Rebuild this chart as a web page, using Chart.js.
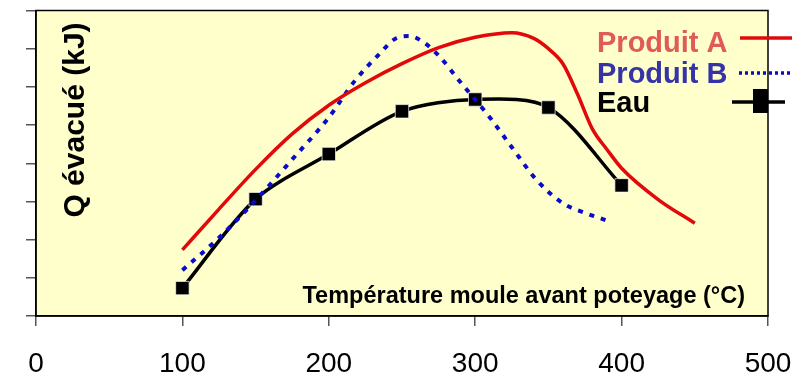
<!DOCTYPE html>
<html>
<head>
<meta charset="utf-8">
<script src="https://cdn.jsdelivr.net/npm/chart.js@4"></script>
<style>
  html, body { margin: 0; padding: 0; background: #fff; }
  #wrap { width: 800px; height: 391px; }
</style>
</head>
<body>
<div id="wrap"><canvas id="qChart" width="800" height="391"></canvas></div>
<script>
// x values (°C) and Q values
const tempA = [100, 125, 150, 175, 200, 225, 250, 275, 300, 325, 340, 350, 360, 370, 380, 390, 400, 425, 450];
const produitA = [1.73, 2.8, 3.84, 4.77, 5.52, 6.11, 6.61, 7.03, 7.3, 7.42, 7.27, 7.0, 6.6, 5.8, 4.9, 4.36, 3.87, 3.05, 2.43];

const tempB = [100, 125, 150, 175, 200, 218, 235, 245, 255, 265, 275, 290, 310, 325, 342, 360, 375, 390];
const produitB = [1.2, 2.05, 3.03, 4.1, 5.2, 6.17, 6.88, 7.25, 7.33, 7.16, 6.82, 6.12, 5.2, 4.42, 3.56, 2.95, 2.7, 2.5];

const tempEau = [100, 150, 200, 250, 300, 350, 400];
const eau = [0.73, 3.06, 4.24, 5.36, 5.67, 5.46, 3.42];

const xTicks = [0, 100, 200, 300, 400, 500];
const yTitle = 'Q évacué (kJ)';
const xTitle = 'Température moule avant poteyage (°C)';
const legendLabels = ['Produit A', 'Produit B', 'Eau'];

const toPoints = (xs, ys) => xs.map((x, i) => ({ x: x, y: ys[i] }));

Chart.defaults.font.family = 'Arial, "Liberation Sans", sans-serif';
Chart.defaults.color = '#000';

const plotDecor = {
  id: 'plotDecor',
  beforeDraw(chart) {
    const { ctx, chartArea: a } = chart;
    ctx.save();
    ctx.fillStyle = '#FFFFCC';
    ctx.fillRect(a.left, a.top, a.right - a.left, a.bottom - a.top);
    ctx.restore();
  },
  beforeDatasetsDraw(chart) {
    const { ctx, chartArea: a } = chart;
    ctx.save();
    ctx.strokeStyle = '#000';
    ctx.lineWidth = 1.5;
    ctx.strokeRect(a.left, a.top, a.right - a.left, a.bottom - a.top);

    // axis titles sit inside the plot
    ctx.fillStyle = '#000';
    ctx.font = 'bold 23.5px Arial, "Liberation Sans", sans-serif';
    ctx.textAlign = 'right';
    ctx.textBaseline = 'alphabetic';
    ctx.fillText(xTitle, 745, 303);

    ctx.translate(84, 120);
    ctx.rotate(-Math.PI / 2);
    ctx.textAlign = 'center';
    ctx.font = 'bold 30px Arial, "Liberation Sans", sans-serif';
    ctx.fillText(yTitle, 0, 0);
    ctx.restore();
  },
  afterDraw(chart) {
    const { ctx } = chart;
    ctx.save();
    ctx.font = 'bold 29px Arial, "Liberation Sans", sans-serif';
    ctx.textAlign = 'left';
    ctx.textBaseline = 'alphabetic';

    ctx.fillStyle = '#E05A5A';
    ctx.fillText(legendLabels[0], 597, 52);
    ctx.fillStyle = '#3434A8';
    ctx.fillText(legendLabels[1], 597, 83);
    ctx.fillStyle = '#000';
    ctx.fillText(legendLabels[2], 597, 112);

    ctx.lineWidth = 3.5;
    ctx.strokeStyle = '#E00A0A';
    ctx.beginPath(); ctx.moveTo(740, 38); ctx.lineTo(792, 38); ctx.stroke();

    ctx.strokeStyle = '#0A0ACC';
    ctx.setLineDash([3, 3]);
    ctx.beginPath(); ctx.moveTo(739, 73); ctx.lineTo(790, 73); ctx.stroke();
    ctx.setLineDash([]);

    ctx.strokeStyle = '#000';
    ctx.beginPath(); ctx.moveTo(732, 102); ctx.lineTo(785, 102); ctx.stroke();
    ctx.fillStyle = '#000';
    ctx.fillRect(753, 89, 15, 24);
    ctx.restore();
  }
};

new Chart(document.getElementById('qChart'), {
  type: 'scatter',
  data: {
    datasets: [
      {
        label: 'Produit A',
        data: toPoints(tempA, produitA),
        showLine: true,
        borderColor: '#E00A0A',
        borderWidth: 3.5,
        pointRadius: 0,
        cubicInterpolationMode: 'monotone'
      },
      {
        label: 'Produit B',
        data: toPoints(tempB, produitB),
        showLine: true,
        borderColor: '#0A0ACC',
        borderWidth: 4,
        borderDash: [5, 7],
        pointRadius: 0,
        cubicInterpolationMode: 'monotone'
      },
      {
        label: 'Eau',
        data: toPoints(tempEau, eau),
        showLine: true,
        borderColor: '#000',
        borderWidth: 3.5,
        tension: 0.3,
        pointStyle: 'rect',
        pointRadius: 9.5,
        pointBackgroundColor: '#000',
        pointBorderColor: 'rgba(255,255,255,0.7)',
        pointBorderWidth: 1
      }
    ]
  },
  options: {
    responsive: false,
    animation: false,
    layout: { padding: { top: 10, right: 32, left: 0, bottom: 0 } },
    plugins: {
      legend: { display: false },
      tooltip: { enabled: false }
    },
    scales: {
      x: {
        type: 'linear',
        min: 0,
        max: 500,
        afterBuildTicks: scale => { scale.ticks = xTicks.map(v => ({ value: v })); },
        afterFit: scale => { scale.height = 75; scale.paddingRight = 0; scale.paddingLeft = 0; },
        ticks: { font: { size: 28 }, padding: 21, maxRotation: 0 },
        grid: { drawOnChartArea: false, drawTicks: true, tickLength: 10, color: '#555', lineWidth: 1.5 },
        border: { color: '#000', width: 1.5 }
      },
      y: {
        min: 0,
        max: 8,
        ticks: { display: false, stepSize: 1 },
        afterFit: scale => { scale.width = 36; },
        grid: { drawOnChartArea: false, drawTicks: true, tickLength: 10, color: '#555', lineWidth: 1.5 },
        border: { color: '#000', width: 1.5 }
      }
    }
  },
  plugins: [plotDecor]
});
</script>
</body>
</html>
